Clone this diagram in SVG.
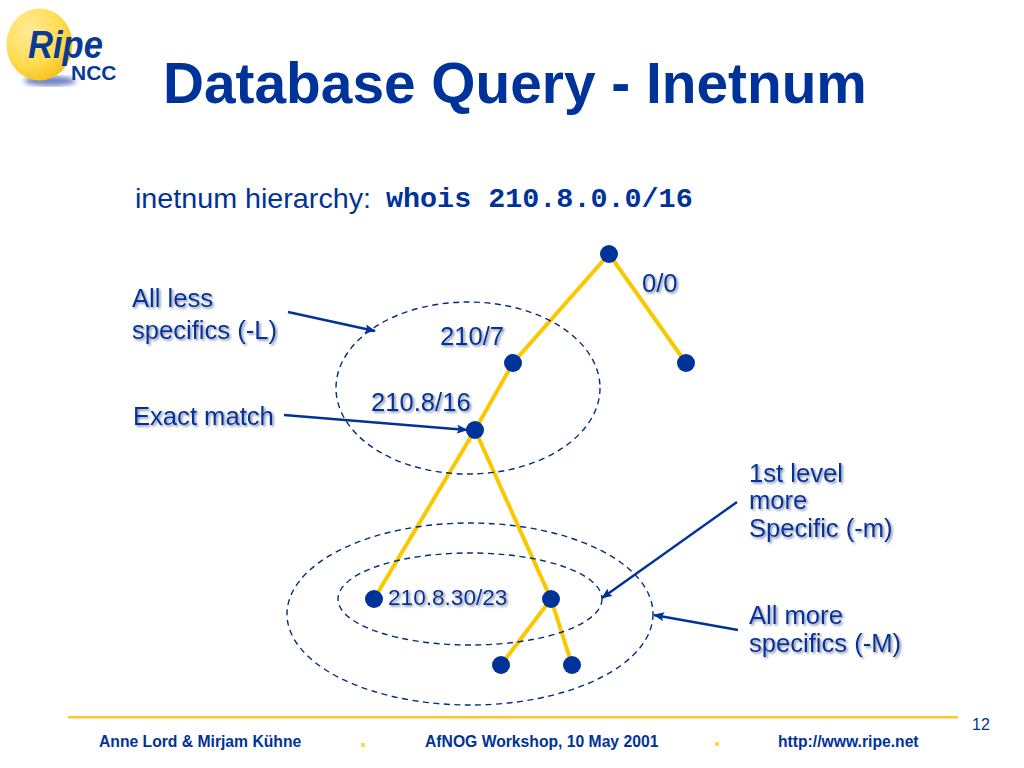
<svg xmlns="http://www.w3.org/2000/svg" width="1024" height="768" viewBox="0 0 1024 768">
<style>
text{font-family:"Liberation Sans",Arial,sans-serif;fill:#003399}
.lab{font-size:25.6px;filter:url(#sh)}
.foot{font-size:15.7px;font-weight:bold}
.edge{stroke:#fbc800;stroke-width:4;fill:none;stroke-linecap:round}
.ell{stroke:#002f7a;stroke-width:1.4;fill:none;stroke-dasharray:6 4.5}
.arr{stroke:#003399;stroke-width:2.4;fill:none;marker-end:url(#ah)}
.dot{fill:#003399}
.logo{fill:#0a3a94;font-weight:bold}
</style>
<defs>
<marker id="ah" markerWidth="11" markerHeight="9" refX="10" refY="4.5" orient="auto" markerUnits="userSpaceOnUse"><path d="M0 0L11 4.5L0 9L2 4.5Z" fill="#003399"/></marker>
<filter id="sh" x="-5%" y="-15%" width="110%" height="135%"><feDropShadow dx="1.6" dy="1.6" stdDeviation="0.8" flood-color="#7f8cab"/></filter>
<radialGradient id="ball" cx="0.35" cy="0.3" r="0.8"><stop offset="0" stop-color="#ffeb9a"/><stop offset="0.6" stop-color="#ffdc50"/><stop offset="1" stop-color="#f5bb10"/></radialGradient>
<filter id="bl"><feGaussianBlur stdDeviation="2.5"/></filter>
</defs>
<g id="logo">
<ellipse cx="50" cy="81" rx="26" ry="5" fill="#6f82c8" filter="url(#bl)"/>
<ellipse cx="39.500" cy="44.500" rx="33" ry="36" fill="url(#ball)"/>
<text class="logo" x="28" y="58" font-size="38" font-style="italic" textLength="75" lengthAdjust="spacingAndGlyphs">Ripe</text>
<text class="logo" x="71" y="80" font-size="21">NCC</text>
</g>
<text id="title" x="163" y="103" font-size="56.800" font-weight="bold">Database Query - Inetnum</text>
<g id="subtitle">
<text x="135" y="208" font-size="28.400" textLength="236" lengthAdjust="spacingAndGlyphs">inetnum hierarchy:</text>
<text x="386" y="207" font-size="28.400" font-weight="bold" style="font-family:'Liberation Mono',monospace">whois 210.8.0.0/16</text>
</g>
<g id="connectors">
<path class="edge" d="M609 254L513 363L475 430L374 599"/>
<path class="edge" d="M609 254L686 363"/>
<path class="edge" d="M475 430L551 599L572 665"/>
<path class="edge" d="M551 599L501 665"/>
<ellipse class="ell" cx="468" cy="388" rx="132" ry="86"/>
<ellipse class="ell" cx="470" cy="614" rx="183" ry="91"/>
<ellipse class="ell" cx="470" cy="599" rx="132" ry="46"/>
<path class="arr" d="M288 312L375 331"/>
<path class="arr" d="M284 415L467 430"/>
<path class="arr" d="M737 502L602 598"/>
<path class="arr" d="M738 630L654 615"/>
</g>
<g id="n1"><circle class="dot" cx="609" cy="254" r="9"/></g>
<g id="n2"><circle class="dot" cx="513" cy="363" r="9"/></g>
<g id="n3"><circle class="dot" cx="686" cy="363" r="9"/></g>
<g id="n4"><circle class="dot" cx="475" cy="430" r="9"/></g>
<g id="n5"><circle class="dot" cx="374" cy="599" r="9"/></g>
<g id="n6"><circle class="dot" cx="551" cy="599" r="9"/></g>
<g id="n7"><circle class="dot" cx="501" cy="665" r="9"/></g>
<g id="n8"><circle class="dot" cx="572" cy="665" r="9"/></g>
<g id="labels">
<text class="lab" x="642" y="292">0/0</text>
<text class="lab" x="440" y="345">210/7</text>
<text class="lab" x="371" y="411">210.8/16</text>
<text class="lab" x="388" y="605" style="font-size:22.6px">210.8.30/23</text>
<text class="lab" x="132" y="307">All less</text>
<text class="lab" x="132" y="339">specifics (-L)</text>
<text class="lab" x="133" y="425">Exact match</text>
<text class="lab" x="749" y="482">1st level</text>
<text class="lab" x="749" y="509">more</text>
<text class="lab" x="749" y="537">Specific (-m)</text>
<text class="lab" x="749" y="624">All more</text>
<text class="lab" x="749" y="652">specifics (-M)</text>
</g>
<g id="footer">
<rect x="68" y="716" width="890" height="2.500" fill="#fcc830"/>
<text x="972" y="730" font-size="16">12</text>
<text class="foot" x="99" y="747">Anne Lord &amp; Mirjam Kühne</text>
<rect x="361" y="743" width="4" height="4" fill="#ffd940"/>
<text class="foot" x="425" y="747">AfNOG Workshop, 10 May 2001</text>
<rect x="715" y="742" width="4" height="4" fill="#ffd940"/>
<text class="foot" x="778" y="747">http://www.ripe.net</text>
</g>
</svg>
